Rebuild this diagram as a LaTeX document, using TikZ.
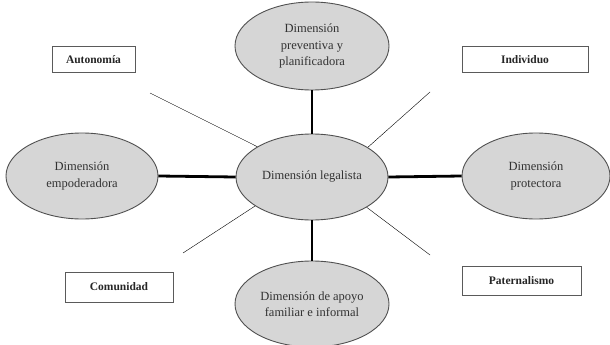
\documentclass[tikz,border=0pt]{standalone}
\usepackage{fontspec}
\setmainfont{Liberation Serif}
\usetikzlibrary{shapes.geometric}
\definecolor{ellfill}{RGB}{214,214,214}
\definecolor{ellline}{RGB}{80,80,80}
\definecolor{txt}{RGB}{50,50,50}
\definecolor{thin}{RGB}{90,90,90}
\tikzset{
  dimell/.style={ellipse, draw=ellline, line width=0.9pt, fill=ellfill, inner sep=0pt,
    text=txt, align=center, font=\fontsize{12.5}{16.5}\selectfont},
  labbox/.style={rectangle, draw=thin, line width=1pt, fill=white, inner sep=0pt,
    font=\fontsize{11.5}{13}\selectfont\bfseries, text=black!85},
  thick link/.style={line width=2.8pt, black},
  thin link/.style={line width=0.8pt, thin}
}
\begin{document}
\begin{tikzpicture}[x=1pt, y=-1pt]
\useasboundingbox (0,0) rectangle (610,345);
% ellipses
\node[dimell, minimum width=154pt, minimum height=88pt] (top) at (312,46) {Dimensión\\preventiva y\\planificadora};
\node[dimell, minimum width=152pt, minimum height=86pt] (center) at (312,177) {Dimensión legalista};
\node[dimell, minimum width=152pt, minimum height=86pt] (left) at (82,176) {Dimensión\\empoderadora};
\node[dimell, minimum width=148pt, minimum height=86pt] (right) at (536,176) {Dimensión\\protectora};
\node[dimell, minimum width=154pt, minimum height=86pt] (bottom) at (312,304) {Dimensión de apoyo\\familiar e informal};
% boxes
\node[labbox, minimum width=83pt, minimum height=25pt] (auto) at (93.5,59.5) {Autonomía};
\node[labbox, minimum width=126pt, minimum height=25pt] (indiv) at (525,59.5) {Individuo};
\node[labbox, minimum width=108pt, minimum height=30pt] (comu) at (119,287) {Comunidad};
\node[labbox, minimum width=119pt, minimum height=29pt] (pater) at (521.5,280.5) {Paternalismo};
% free ends of thin lines
\coordinate (ca) at (150,93);
\coordinate (ci) at (430,92);
\coordinate (cc) at (183,253);
\coordinate (cp) at (430,255);
% thin lines
\draw[thin link] (ca) -- (center.151);
\draw[thin link] (ci) -- (center.28);
\draw[thin link] (cc) -- (center.207);
\draw[thin link] (cp) -- (center.331);
% thick lines
\draw[thick link] (top.south) -- (center.north);
\draw[thick link] (left.east) -- (center.west);
\draw[thick link] (center.east) -- (right.west);
\draw[thick link] (center.south) -- (bottom.north);
\end{tikzpicture}
\end{document}
